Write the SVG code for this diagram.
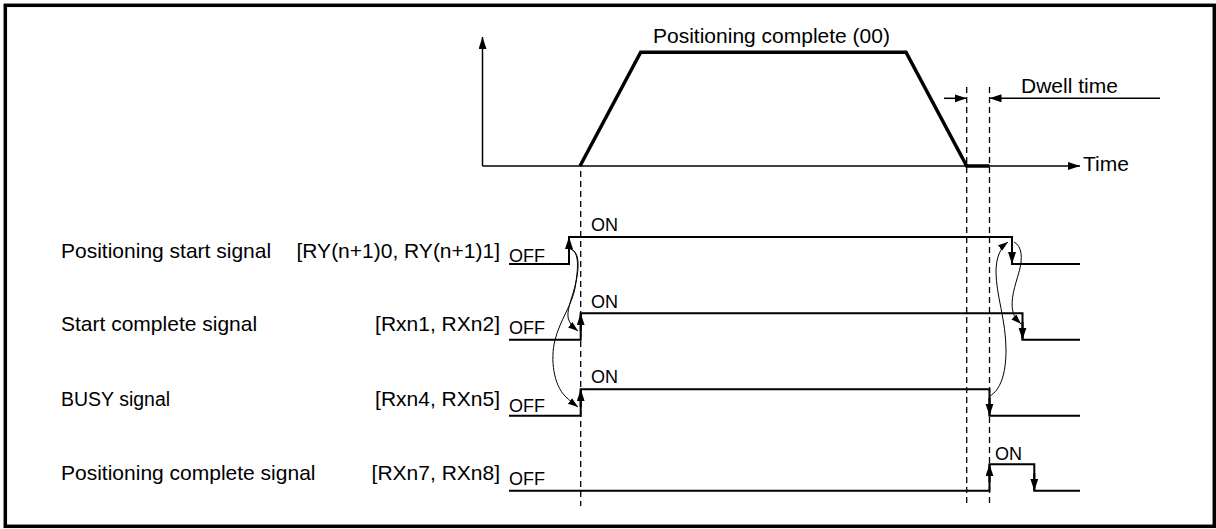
<svg xmlns="http://www.w3.org/2000/svg" width="1216" height="529" viewBox="0 0 1216 529">
<style>
text{font-family:"Liberation Sans",Arial,sans-serif;fill:#000}
.lbl{font-size:21px}
.st{font-size:18px}
.sig{fill:none;stroke:#000;stroke-width:2}
.dash{fill:none;stroke:#000;stroke-width:1.3;stroke-dasharray:6 4}
.ax{fill:none;stroke:#000;stroke-width:1.5}
.cv{fill:none;stroke:#000;stroke-width:1}
.edge{stroke:#000;stroke-width:2}
</style>
<defs>
<marker id="ah" markerUnits="userSpaceOnUse" markerWidth="13" markerHeight="9" refX="12" refY="4" orient="auto">
<path d="M0,0 L12,4 L0,8 z" fill="#000"/>
</marker>
<marker id="as" markerUnits="userSpaceOnUse" markerWidth="11" markerHeight="8" refX="10" refY="3.5" orient="auto">
<path d="M0,0 L10,3.5 L0,7 z" fill="#000"/>
</marker>
</defs>
<rect x="5.3" y="5.3" width="1209" height="521" fill="#fff" stroke="#000" stroke-width="3.5"/>

<g id="graph">
<line class="ax" x1="482.5" y1="166" x2="482.5" y2="37" marker-end="url(#ah)"/>
<line class="ax" x1="482.5" y1="166" x2="1080" y2="166" marker-end="url(#ah)"/>
<path d="M580,166 L640.7,52.3 L906,52.3 L966.7,166 L989.5,166" fill="none" stroke="#000" stroke-width="3.5"/>
<text class="lbl" x="653" y="43">Positioning complete (00)</text>
<text class="lbl" x="1083" y="171">Time</text>
</g>

<g id="dwell">
<line class="ax" x1="944" y1="98.3" x2="966.7" y2="98.3" marker-end="url(#ah)"/>
<line class="ax" x1="1160" y1="98.3" x2="989.5" y2="98.3" marker-end="url(#ah)"/>
<text class="lbl" x="1021" y="93">Dwell time</text>
</g>

<g id="guides">
<line class="dash" x1="580.7" y1="171" x2="580.7" y2="506"/>
<line class="dash" x1="966.7" y1="87" x2="966.7" y2="506"/>
<line class="dash" x1="989.5" y1="87" x2="989.5" y2="506"/>
</g>

<g id="row-start">
<text class="lbl" x="61" y="257.5">Positioning start signal</text>
<text class="lbl" x="500" y="257.5" text-anchor="end">[RY(n+1)0, RY(n+1)1]</text>
<text class="st" x="509" y="262">OFF</text>
<text class="st" x="591" y="231">ON</text>
<polyline class="sig" points="509,264 569,264 569,237 1012,237 1012,264 1080,264"/>
</g>

<g id="row-startcomplete">
<text class="lbl" x="61" y="331">Start complete signal</text>
<text class="lbl" x="500" y="331" text-anchor="end">[Rxn1, RXn2]</text>
<text class="st" x="509" y="333.5">OFF</text>
<text class="st" x="591" y="307.5">ON</text>
<polyline class="sig" points="509,339.7 580.7,339.7 580.7,313.3 1022.5,313.3 1022.5,339.7 1080,339.7"/>
</g>

<g id="row-busy">
<text x="61" y="406" style="font-size:19.5px">BUSY signal</text>
<text class="lbl" x="500" y="406" text-anchor="end">[Rxn4, RXn5]</text>
<text class="st" x="509" y="412">OFF</text>
<text class="st" x="591" y="383">ON</text>
<polyline class="sig" points="509,415.7 580.7,415.7 580.7,389.3 989.5,389.3 989.5,415.7 1080,415.7"/>
</g>

<g id="row-poscomplete">
<text class="lbl" x="61" y="479.5">Positioning complete signal</text>
<text class="lbl" x="500" y="479.5" text-anchor="end">[RXn7, RXn8]</text>
<text class="st" x="509" y="484.5">OFF</text>
<text class="st" x="995" y="459.5">ON</text>
<polyline class="sig" points="509,490.7 989.5,490.7 989.5,464.3 1034.3,464.3 1034.3,490.7 1080,490.7"/>
</g>

<g id="connectors">
<line class="edge" x1="569" y1="255" x2="569" y2="237" marker-end="url(#ah)"/>
<line class="edge" x1="1012" y1="246" x2="1012" y2="264" marker-end="url(#ah)"/>
<line class="edge" x1="580.7" y1="331" x2="580.7" y2="313.3" marker-end="url(#ah)"/>
<line class="edge" x1="1022.5" y1="322" x2="1022.5" y2="339.7" marker-end="url(#ah)"/>
<line class="edge" x1="580.7" y1="407" x2="580.7" y2="389.3" marker-end="url(#ah)"/>
<line class="edge" x1="989.5" y1="398" x2="989.5" y2="415.7" marker-end="url(#ah)"/>
<line class="edge" x1="989.5" y1="482" x2="989.5" y2="464.3" marker-end="url(#ah)"/>
<line class="edge" x1="1034.3" y1="473" x2="1034.3" y2="490.7" marker-end="url(#ah)"/>
<path class="cv" d="M570.5,249 C580,252 579,268 576,282 C573,296 567,308 568,317 C569,323 573,327 578,331" marker-end="url(#as)"/>
<path class="cv" d="M570.5,249 C580,252 578,270 575,288 C572,305 560,320 555,340 C550,360 554,385 565,396 C570,401 574,404 578,407" marker-end="url(#as)"/>
<path class="cv" d="M990,396 C1000,390 1006,375 1006,350 C1006,320 996,295 996,272 C996,258 1000,248 1008,242" marker-end="url(#as)"/>
<path class="cv" d="M1014,242 C1022,246 1023,258 1019,272 C1015,286 1010,300 1013,312 C1014,317 1017,320 1021,324" marker-end="url(#as)"/>
</g>
</svg>
